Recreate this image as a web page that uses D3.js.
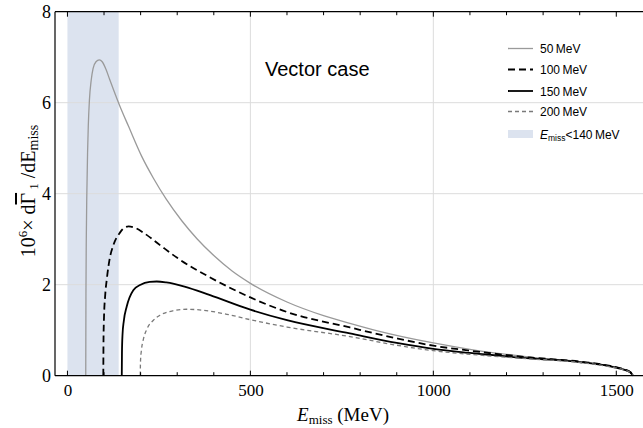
<!DOCTYPE html>
<html><head><meta charset="utf-8">
<script src="https://cdn.jsdelivr.net/npm/d3@7"></script>
<style>body{margin:0;background:#fff}svg{display:block}</style>
</head><body>
<svg id="c" width="643" height="428"></svg>
<script>
// ---- data ----
const seriesNames = ["50 MeV", "100 MeV", "150 MeV", "200 MeV"];
const curve50 = [[50,0],[50.6,1.8],[51.5,3.0],[53,4.0],[55,4.9],[57,5.5],[60,6.05],[65,6.5],[70,6.75],[78,6.9],[87,6.94],[95,6.9],[105,6.74],[115,6.52],[128,6.24],[142,5.95],[167,5.48],[203,4.82],[235,4.34],[270,3.88],[313,3.40],[354,3.01],[400,2.64],[450,2.30],[500,2.03],[600,1.62],[700,1.32],[772,1.15],[850,0.98],[1000,0.72],[1100,0.58],[1200,0.47],[1264,0.41],[1400,0.31],[1480,0.22],[1520,0.145],[1538,0.08],[1546,0]];
const curve100 = [[98,0],[98.6,0.8],[100,1.3],[103,1.75],[108,2.15],[115,2.55],[126,2.88],[144,3.15],[155,3.25],[167,3.28],[185,3.25],[210,3.13],[253,2.87],[300,2.59],[390,2.16],[500,1.72],[600,1.4],[772,1.06],[900,0.82],[1000,0.66],[1100,0.55],[1264,0.4],[1400,0.31],[1480,0.22],[1520,0.14],[1538,0.08],[1546,0]];
const curve150 = [[148.5,0],[149,0.5],[150.5,0.9],[154,1.2],[162,1.52],[180,1.88],[200,2.0],[225,2.06],[244,2.07],[270,2.05],[320,1.96],[390,1.77],[500,1.45],[600,1.22],[772,0.93],[900,0.72],[1000,0.59],[1100,0.5],[1264,0.38],[1400,0.3],[1480,0.21],[1520,0.135],[1538,0.075],[1546,0]];
const curve200 = [[199,0],[199.6,0.3],[202,0.55],[207,0.78],[217,1.02],[235,1.22],[253,1.33],[290,1.43],[326,1.46],[370,1.44],[430,1.36],[500,1.23],[600,1.07],[772,0.86],[900,0.67],[1000,0.55],[1100,0.47],[1264,0.37],[1400,0.29],[1480,0.2],[1520,0.13],[1538,0.07],[1546,0]];
const seriesData = [curve50, curve100, curve150, curve200];
const shadeRange = [0, 140];
const xTicks = [0, 500, 1000, 1500];
const yTicks = [0, 2, 4, 6, 8];
const xGrid = [500, 1000];
const yGrid = [2, 4, 6];

const svg = d3.select("#c");
const x = d3.scaleLinear().domain([-34, 1573]).range([55, 643]);
const y = d3.scaleLinear().domain([0, 8]).range([375.7, 11.7]);

// shade
svg.append("rect").attr("x", x(shadeRange[0])).attr("y", y(8))
  .attr("width", x(shadeRange[1]) - x(shadeRange[0])).attr("height", y(0) - y(8))
  .attr("fill", "#dce3ef");

// grid
svg.selectAll(".gx").data(xGrid).enter().append("line")
  .attr("x1", d => x(d)).attr("x2", d => x(d)).attr("y1", y(0)).attr("y2", y(8))
  .attr("stroke", "#dcdcdc").attr("stroke-width", 1);
svg.selectAll(".gy").data(yGrid).enter().append("line")
  .attr("x1", x.range()[0]).attr("x2", x.range()[1]).attr("y1", d => y(d)).attr("y2", d => y(d))
  .attr("stroke", "#dcdcdc").attr("stroke-width", 1);

// curves
const styles = [
  {stroke: "#9a9a9a", w: 1.3, dash: null},
  {stroke: "#000", w: 1.8, dash: "7,4"},
  {stroke: "#000", w: 1.8, dash: null},
  {stroke: "#7a7a7a", w: 1.3, dash: "4,3"}
];
const line = d3.line().x(d => x(d[0])).y(d => y(d[1])).curve(d3.curveMonotoneX);
seriesData.forEach((s, i) => {
  svg.append("path").attr("d", line(s)).attr("fill", "none")
    .attr("stroke", styles[i].stroke).attr("stroke-width", styles[i].w)
    .attr("stroke-dasharray", styles[i].dash);
});

// axes frame
const serif = "Liberation Serif, Times New Roman, serif";
const sans = "Liberation Sans, Arial, sans-serif";
const bottom = d3.axisBottom(x).tickValues(xTicks).tickSize(0).tickFormat(d3.format("d")).tickPadding(8);
const gB = svg.append("g").attr("transform", `translate(0,${y(0)})`).call(bottom);
gB.select(".domain").remove();
gB.selectAll("text").attr("font-family", serif).attr("font-size", 17).attr("fill", "#000");
const left = d3.axisLeft(y).tickValues(yTicks).tickSize(0).tickPadding(4).tickFormat(d3.format("d"));
const gL = svg.append("g").attr("transform", `translate(${x.range()[0]},0)`).call(left);
gL.select(".domain").remove();
gL.selectAll("text").attr("font-family", serif).attr("font-size", 18).attr("fill", "#000");

const minor = d3.range(0, 1501, 100);
svg.selectAll(".tb").data(minor).enter().append("line")
  .attr("x1", d => x(d)).attr("x2", d => x(d)).attr("y1", y(0)).attr("y2", d => y(0) - (d % 500 === 0 ? 5 : 3.5))
  .attr("stroke", "#000").attr("stroke-width", 1);
svg.selectAll(".tt").data(minor).enter().append("line")
  .attr("x1", d => x(d)).attr("x2", d => x(d)).attr("y1", y(8)).attr("y2", d => y(8) + (d % 500 === 0 ? 5 : 3.5))
  .attr("stroke", "#000").attr("stroke-width", 1);
svg.append("line").attr("x1", x.range()[0]).attr("x2", x.range()[1]).attr("y1", y(0)).attr("y2", y(0)).attr("stroke", "#000").attr("stroke-width", 1.2);
svg.append("line").attr("x1", x.range()[0]).attr("x2", x.range()[1]).attr("y1", y(8)).attr("y2", y(8)).attr("stroke", "#000").attr("stroke-width", 1.2);
svg.append("line").attr("x1", x.range()[0]).attr("x2", x.range()[0]).attr("y1", y(0)).attr("y2", y(8)).attr("stroke", "#000").attr("stroke-width", 1.2);

// x-axis title
const xt = svg.append("text").attr("x", 343).attr("y", 421).attr("text-anchor", "middle")
  .attr("font-family", serif).attr("font-size", 19);
xt.append("tspan").attr("font-style", "italic").text("E");
xt.append("tspan").attr("font-size", 13).attr("dy", 3).text("miss");
xt.append("tspan").attr("dy", -3).text(" (MeV)");

// y-axis title
const yt = svg.append("text").attr("transform", "translate(35,191) rotate(-90)").attr("text-anchor", "middle")
  .attr("font-family", serif).attr("font-size", 20);
yt.append("tspan").text("10");
yt.append("tspan").attr("font-size", 13).attr("dy", -8).text("6");
yt.append("tspan").attr("dy", 8).text("\u00d7  d");
yt.append("tspan").attr("text-decoration", "overline").text("\u0393");
yt.append("tspan").attr("font-size", 13).attr("dy", 3).text(" 1");
yt.append("tspan").attr("dy", -3).text(" /dE");
yt.append("tspan").attr("font-size", 14).attr("dy", 3).text("miss");

// title
svg.append("text").attr("x", 265).attr("y", 76).attr("font-family", sans)
  .attr("font-size", 20).text("Vector case");

// legend
const legY = [48.5, 69.5, 91, 111.5];
seriesNames.forEach((n, i) => {
  svg.append("line").attr("x1", 508).attr("x2", 533).attr("y1", legY[i]).attr("y2", legY[i])
    .attr("stroke", styles[i].stroke).attr("stroke-width", styles[i].w).attr("stroke-dasharray", styles[i].dash);
  svg.append("text").attr("x", 540).attr("y", legY[i] + 4.5).attr("font-family", sans)
    .attr("font-size", 12).text(n.replace(" ", "\u2009"));
});
svg.append("rect").attr("x", 508).attr("y", 130).attr("width", 25).attr("height", 8).attr("fill", "#dce3ef");
const lt = svg.append("text").attr("x", 540).attr("y", 138.5).attr("font-family", sans).attr("font-size", 12);
lt.append("tspan").attr("font-style", "italic").text("E");
lt.append("tspan").attr("font-size", 8.5).attr("dy", 2).text("miss");
lt.append("tspan").attr("dy", -2).text("<140\u2009MeV");
</script>
</body></html>
